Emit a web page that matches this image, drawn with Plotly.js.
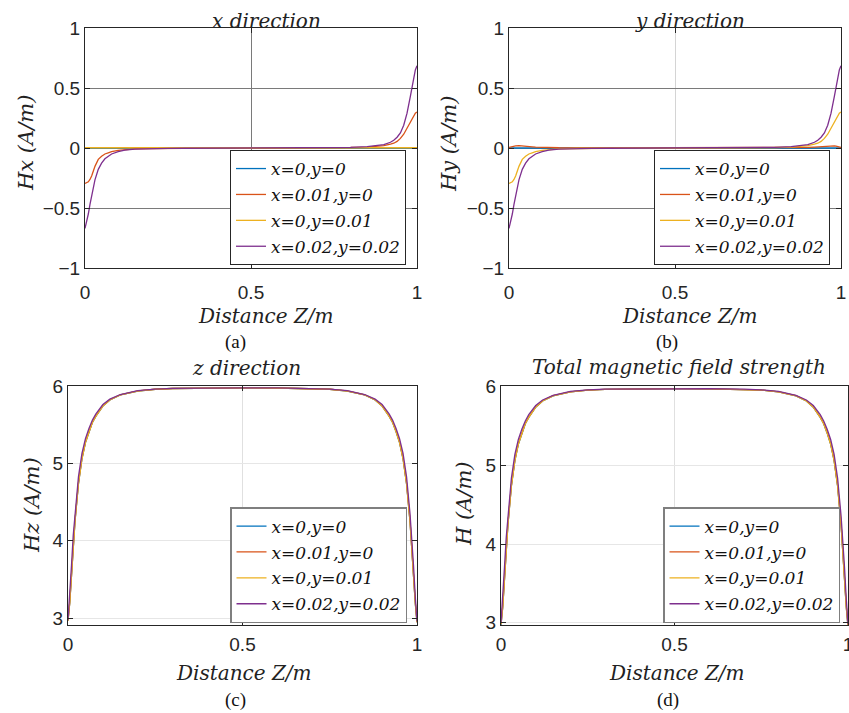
<!DOCTYPE html>
<html>
<head>
<meta charset="utf-8">
<script src="https://cdn.plot.ly/plotly-3.0.1.min.js"></script>
<style>html,body{margin:0;padding:0;background:#fff;}#chart{width:849px;height:713px;}</style>
</head>
<body>
<div id="chart"></div>
<script>
// ---- data ----
const distanceZ = [0, 0.005, 0.01, 0.015, 0.02, 0.03, 0.04, 0.05, 0.06, 0.07, 0.08, 0.1, 0.12, 0.15, 0.2, 0.25, 0.3, 0.4, 0.5,
  0.6, 0.7, 0.75, 0.8, 0.85, 0.88, 0.9, 0.92, 0.93, 0.94, 0.95, 0.96, 0.97, 0.98, 0.985, 0.99, 0.995, 1];

const seriesNames = ["x=0,y=0", "x=0.01,y=0", "x=0,y=0.01", "x=0.02,y=0.02"];

// (a) x direction
const Hx_x0y0 = [0,0,0,0,0,0,0,0,0,0,0,0,0,0,0,0,0,0,0,0,0,0,0,0,0,0,0,0,0,0,0,0,0,0,0,0,0];
const Hx_x01y0 = [-0.295,-0.29,-0.282,-0.262,-0.233,-0.153,-0.095,-0.068,-0.05,-0.04,-0.031,-0.02,-0.014,-0.008,-0.004,-0.002,-0.001,
  0,0,0,0.001,0.002,0.004,0.008,0.013,0.02,0.032,0.04,0.055,0.08,0.115,0.165,0.225,0.25,0.272,0.29,0.30];
const Hx_x0y01 = [0.002,0.002,0.002,0.002,0.002,0.002,0.002,0.001,0.001,0.001,0.001,0.001,0.001,0.001,0,0,0,0,0,0,0,0,0,0,0.001,0.001,0.001,0.001,0.001,0.001,0.002,0.002,0.002,0.002,0.002,0.002,0.002];
const Hx_x02y02 = [-0.67,-0.62,-0.55,-0.47,-0.39,-0.265,-0.178,-0.126,-0.09,-0.066,-0.05,-0.03,-0.018,-0.01,-0.005,-0.003,-0.002,
  -0.001,0,0.001,0.002,0.003,0.006,0.011,0.019,0.028,0.048,0.065,0.09,0.125,0.19,0.29,0.43,0.51,0.59,0.65,0.685];

// (b) y direction
const Hy_x0y0 = [0,0,0,0,0,0,0,0,0,0,0,0,0,0,0,0,0,0,0,0,0,0,0,0,0,0,0,0,0,0,0,0,0,0,0,0,0];
const Hy_x01y0 = [0.005,0.009,0.013,0.016,0.018,0.02,0.019,0.016,0.013,0.01,0.008,0.005,0.004,0.002,0.001,0.001,0,
  0,0,0,0,0.001,0.001,0.002,0.004,0.005,0.008,0.01,0.013,0.016,0.019,0.02,0.018,0.016,0.013,0.009,0.005];
const Hy_x0y01 = [-0.295,-0.29,-0.282,-0.262,-0.233,-0.153,-0.095,-0.068,-0.05,-0.04,-0.031,-0.02,-0.014,-0.008,-0.004,-0.002,-0.001,
  0,0,0,0.001,0.002,0.004,0.008,0.013,0.02,0.032,0.04,0.055,0.08,0.115,0.165,0.225,0.25,0.272,0.29,0.30];
const Hy_x02y02 = [-0.67,-0.62,-0.55,-0.47,-0.39,-0.265,-0.178,-0.126,-0.09,-0.066,-0.05,-0.03,-0.018,-0.01,-0.005,-0.003,-0.002,
  -0.001,0,0.001,0.002,0.003,0.006,0.011,0.019,0.028,0.048,0.065,0.09,0.125,0.19,0.29,0.43,0.51,0.59,0.65,0.685];

// (c) z direction
const Hz_x0y0 = [2.97,3.2,3.55,3.95,4.25,4.74,5.06,5.27,5.41,5.53,5.61,5.74,5.82,5.885,5.935,5.958,5.968,
  5.974,5.976,5.974,5.968,5.958,5.935,5.885,5.82,5.74,5.61,5.53,5.41,5.27,5.06,4.74,4.25,3.95,3.55,3.2,2.95];
const Hz_x01y0 = [2.97,3.21,3.56,3.96,4.26,4.75,5.07,5.28,5.42,5.535,5.615,5.745,5.823,5.887,5.936,5.958,5.968,
  5.974,5.976,5.974,5.968,5.958,5.936,5.887,5.823,5.745,5.615,5.535,5.42,5.28,5.07,4.75,4.26,3.96,3.56,3.21,2.95];
const Hz_x0y01 = [2.97,3.2,3.55,3.95,4.25,4.74,5.06,5.27,5.41,5.53,5.61,5.74,5.82,5.885,5.935,5.958,5.968,
  5.974,5.976,5.974,5.968,5.958,5.935,5.885,5.82,5.74,5.61,5.53,5.41,5.27,5.06,4.74,4.25,3.95,3.55,3.2,2.95];
const Hz_x02y02 = [2.98,3.28,3.68,4.07,4.35,4.83,5.13,5.32,5.45,5.56,5.64,5.76,5.83,5.89,5.94,5.96,5.97,
  5.975,5.977,5.975,5.97,5.96,5.94,5.89,5.83,5.76,5.64,5.56,5.45,5.32,5.13,4.83,4.35,4.07,3.68,3.28,2.96];

// (d) total magnetic field strength
const H_x0y0 = [2.97,3.2,3.55,3.95,4.25,4.74,5.06,5.27,5.41,5.53,5.61,5.74,5.82,5.885,5.935,5.958,5.968,
  5.974,5.976,5.974,5.968,5.958,5.935,5.885,5.82,5.74,5.61,5.53,5.41,5.27,5.06,4.74,4.25,3.95,3.55,3.2,2.95];
const H_x01y0 = [2.98,3.21,3.56,3.96,4.26,4.75,5.07,5.28,5.42,5.535,5.615,5.745,5.823,5.887,5.936,5.958,5.968,
  5.974,5.976,5.974,5.968,5.958,5.936,5.887,5.823,5.745,5.615,5.535,5.42,5.28,5.07,4.75,4.26,3.96,3.56,3.21,2.96];
const H_x0y01 = [2.98,3.2,3.55,3.95,4.25,4.74,5.06,5.27,5.41,5.53,5.61,5.74,5.82,5.885,5.935,5.958,5.968,
  5.974,5.976,5.974,5.968,5.958,5.935,5.885,5.82,5.74,5.61,5.53,5.41,5.27,5.06,4.74,4.25,3.95,3.55,3.2,2.96];
const H_x02y02 = [3.0,3.3,3.7,4.08,4.36,4.84,5.14,5.33,5.46,5.565,5.645,5.762,5.832,5.891,5.941,5.961,5.971,
  5.975,5.977,5.975,5.971,5.961,5.941,5.891,5.832,5.762,5.645,5.565,5.46,5.33,5.14,4.84,4.36,4.08,3.7,3.3,2.98];

const xTicks = [0, 0.5, 1];
const yTicksTop = [-1, -0.5, 0, 0.5, 1];
const yTicksBottom = [3, 4, 5, 6];

// ---- styling ----
const colors = ["#0072BD", "#D95319", "#EDB120", "#7E2F8E"];
const W = 849, H = 713;
const px = v => v / W;
const py = v => 1 - v / H;

const panels = [
  {ys: [Hx_x0y0, Hx_x01y0, Hx_x0y01, Hx_x02y02], xa: "x", ya: "y", leg: "legend"},
  {ys: [Hy_x0y0, Hy_x01y0, Hy_x0y01, Hy_x02y02], xa: "x2", ya: "y2", leg: "legend2"},
  {ys: [Hz_x0y0, Hz_x01y0, Hz_x0y01, Hz_x02y02], xa: "x3", ya: "y3", leg: "legend3"},
  {ys: [H_x0y0, H_x01y0, H_x0y01, H_x02y02], xa: "x4", ya: "y4", leg: "legend4"}
];

const traces = [];
panels.forEach((p, pi) => {
  p.ys.forEach((ys, si) => {
    traces.push({
      type: "scatter", mode: "lines",
      x: distanceZ, y: ys,
      name: seriesNames[si],
      xaxis: p.xa, yaxis: p.ya,
      legend: p.leg,
      legendgroup: "g" + pi + "_" + si,
      line: {color: colors[si], width: 1.3},
      hoverinfo: "skip"
    });
  });
});

const tickFont = {family: "Liberation Sans, Arial, sans-serif", size: 19, color: "#262626"};
function xax(d0, d1, anchor, grid, standoff) {
  return {domain: [px(d0), px(d1)], anchor: anchor, range: [0, 1], tickvals: xTicks,
    showline: true, mirror: "ticks", linecolor: "#262626", linewidth: 1,
    ticks: "inside", ticklen: 5, tickcolor: "#262626",
    showgrid: true, gridcolor: grid, gridwidth: 1, zeroline: false,
    tickfont: tickFont, ticklabelstandoff: standoff, ticklabeloverflow: "allow", fixedrange: true};
}
function yax(top, bot, anchor, range, tv, grid) {
  return {domain: [py(bot), py(top)], anchor: anchor, range: range, tickvals: tv,
    showline: true, mirror: "ticks", linecolor: "#262626", linewidth: 1,
    ticks: "inside", ticklen: 5, tickcolor: "#262626",
    showgrid: true, gridcolor: grid, gridwidth: 1, zeroline: false,
    tickfont: tickFont, fixedrange: true};
}

const serifIt = {family: "DejaVu Serif, serif", size: 20, color: "#222", style: "italic"};
function ann(text, x, y, font, angle) {
  return {text: text, xref: "paper", yref: "paper", x: px(x), y: py(y),
    xanchor: "center", yanchor: "middle", showarrow: false, font: font, textangle: angle || 0};
}
const yTitleFont = Object.assign({}, serifIt, {size: 21});
const capFont = {family: "Liberation Serif, Times New Roman, serif", size: 19, color: "#111"};

function legendCfg(x, y, border, bw) {
  return {x: px(x), y: py(y), xanchor: "left", yanchor: "top", bgcolor: "#fff",
    bordercolor: border, borderwidth: bw, tracegroupgap: 0.8,
    font: {family: "DejaVu Serif, serif", size: 17, color: "#111", style: "italic"}};
}

const layout = {
  width: W, height: H, margin: {l: 0, r: 0, t: 0, b: 0},
  paper_bgcolor: "#fff", plot_bgcolor: "#fff", showlegend: true,
  xaxis: xax(85, 417, "y", "#7a7a7a", 7),
  yaxis: yax(28, 268, "x", [-1, 1], yTicksTop, "#7a7a7a"),
  xaxis2: xax(509, 841, "y2", "#d4d4d4", 7),
  yaxis2: yax(28, 268, "x2", [-1, 1], yTicksTop, "#7a7a7a"),
  xaxis3: xax(68, 417, "y3", "#e0e0e0", 2),
  yaxis3: yax(386, 625, "x3", [2.913, 6.0], yTicksBottom, "#e6e6e6"),
  xaxis4: xax(501, 848, "y4", "#e0e0e0", 2),
  yaxis4: yax(386, 625, "x4", [2.97, 6.01], yTicksBottom, "#e6e6e6"),
  legend: legendCfg(230, 150, "#262626", 1),
  legend2: legendCfg(654, 150, "#262626", 1),
  legend3: legendCfg(230, 507, "#7f7f7f", 1.5),
  legend4: legendCfg(663, 507, "#7f7f7f", 1.5),
  annotations: [
    ann("x direction", 266, 21, serifIt),
    ann("y direction", 690, 21, serifIt),
    ann("z direction", 246, 368, serifIt),
    ann("Total magnetic field strength", 679, 367, serifIt),
    ann("Distance Z/m", 266, 316, serifIt),
    ann("Distance Z/m", 690, 316, serifIt),
    ann("Distance Z/m", 244, 673, serifIt),
    ann("Distance Z/m", 677, 673, serifIt),
    ann("Hx (A/m)", 26, 143, yTitleFont, -90),
    ann("Hy (A/m)", 449, 144, yTitleFont, -90),
    ann("Hz (A/m)", 32, 505, yTitleFont, -90),
    ann("H (A/m)", 464, 504, yTitleFont, -90),
    ann("(a)", 235, 342, capFont),
    ann("(b)", 667, 342, capFont),
    ann("(c)", 235, 700, capFont),
    ann("(d)", 668, 700, capFont)
  ]
};

Plotly.newPlot("chart", traces, layout, {staticPlot: true, displayModeBar: false});
</script>
</body>
</html>
